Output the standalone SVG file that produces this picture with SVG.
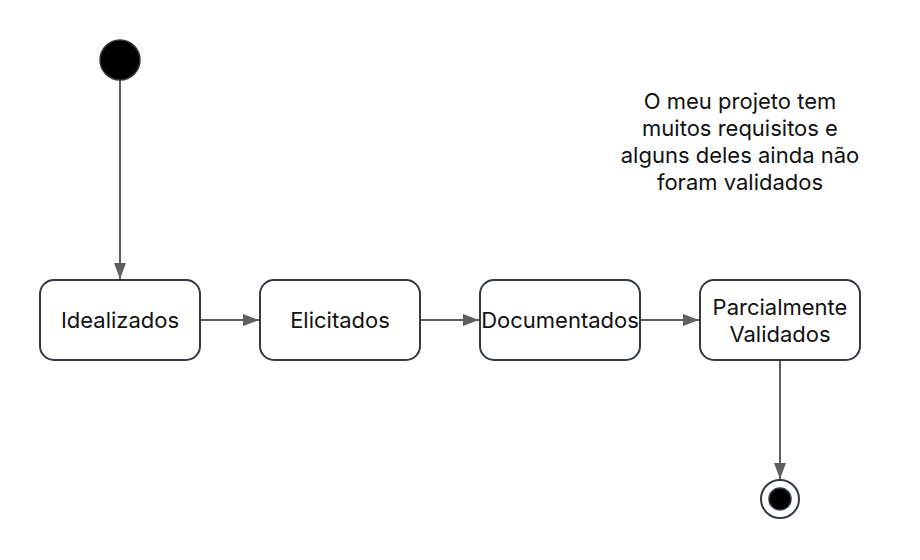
<svg xmlns="http://www.w3.org/2000/svg" width="920" height="560" viewBox="0 0 920 560">
<style>
.node rect{fill:#fff;stroke:#343a42;stroke-width:2}
.lbl{font-family:Inter,"Liberation Sans",sans-serif;font-size:22px;fill:#111;text-anchor:middle}
.edge{stroke:#5f5f5f;stroke-width:2;fill:none}
</style>
<defs>
<marker id="ah" viewBox="0 0 16 12" refX="16" refY="6" markerWidth="16" markerHeight="12" markerUnits="userSpaceOnUse" orient="auto">
<path d="M0,0 L16,6 L0,12 z" fill="#5f5f5f"/>
</marker>
</defs>
<rect width="920" height="560" fill="#fff"/>
<g id="connectors">
<line class="edge" x1="120" y1="80" x2="120" y2="279" marker-end="url(#ah)"/>
<line class="edge" x1="200" y1="320" x2="259" y2="320" marker-end="url(#ah)"/>
<line class="edge" x1="420" y1="320" x2="479" y2="320" marker-end="url(#ah)"/>
<line class="edge" x1="640" y1="320" x2="699" y2="320" marker-end="url(#ah)"/>
<line class="edge" x1="780" y1="360" x2="780" y2="479" marker-end="url(#ah)"/>
</g>
<g id="start"><circle cx="120" cy="60" r="20" fill="#000" stroke="#343a42" stroke-width="1.5"/></g>
<g id="idealizados" class="node"><rect x="40" y="280" width="160" height="80" rx="14"/><text class="lbl" x="120" y="328">Idealizados</text></g>
<g id="elicitados" class="node"><rect x="260" y="280" width="160" height="80" rx="14"/><text class="lbl" x="340" y="328">Elicitados</text></g>
<g id="documentados" class="node"><rect x="480" y="280" width="160" height="80" rx="14"/><text class="lbl" x="560" y="328">Documentados</text></g>
<g id="parcialmente" class="node"><rect x="700" y="280" width="160" height="80" rx="14"/><text class="lbl" x="780" y="315">Parcialmente</text><text class="lbl" x="780" y="342">Validados</text></g>
<g id="end"><circle cx="780" cy="499" r="19" fill="#fff" stroke="#343a42" stroke-width="2"/><circle cx="780" cy="499" r="11" fill="#000" stroke="#343a42" stroke-width="1.5"/></g>
<g id="note">
<text class="lbl" x="740" y="109">O meu projeto tem</text>
<text class="lbl" x="740" y="136">muitos requisitos e</text>
<text class="lbl" x="740" y="163">alguns deles ainda não</text>
<text class="lbl" x="740" y="190">foram validados</text>
</g>
</svg>
